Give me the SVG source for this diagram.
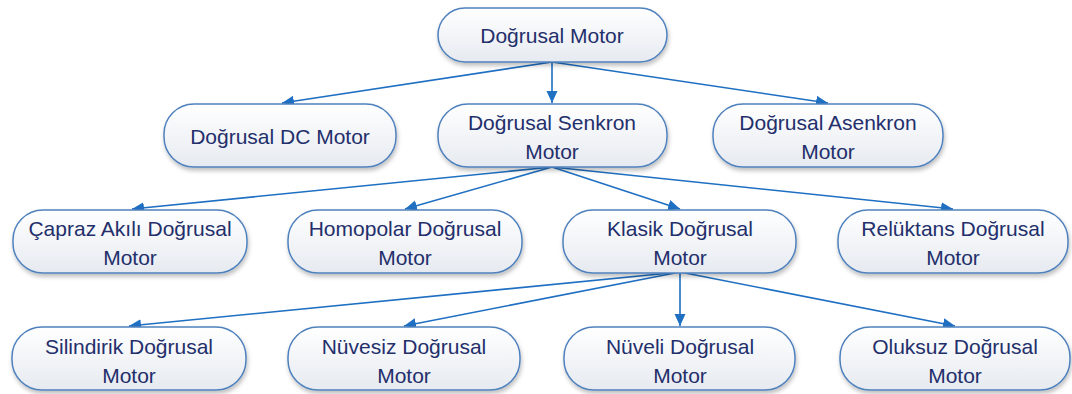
<svg xmlns="http://www.w3.org/2000/svg" width="1072" height="394" viewBox="0 0 1072 394">
<defs>
<linearGradient id="g" x1="0" y1="0" x2="0" y2="1">
<stop offset="0" stop-color="#ffffff"/>
<stop offset="1" stop-color="#e6eaf0"/>
</linearGradient>
<filter id="sh" x="-10%" y="-20%" width="120%" height="150%">
<feDropShadow dx="1" dy="3" stdDeviation="2" flood-color="#000" flood-opacity="0.25"/>
</filter>
<marker id="ah" markerWidth="12" markerHeight="12" refX="12" refY="5.5" orient="auto" markerUnits="userSpaceOnUse" viewBox="0 0 12 11">
<path d="M0,0 L12,5.5 L0,11 z" fill="#1f6fc2"/>
</marker>
<style>
.n rect{fill:url(#g);stroke:#4f81bd;stroke-width:1.5;filter:url(#sh)}
.n text{font-family:"Liberation Sans",Arial,sans-serif;font-size:21px;fill:#232f6b;text-anchor:middle;dominant-baseline:central}
.c line{stroke:#1f6fc2;stroke-width:1.6;marker-end:url(#ah)}
</style>
</defs>
<g class="c" id="connectors">
<line x1="552" y1="62" x2="282" y2="103"/>
<line x1="552" y1="62" x2="552" y2="103"/>
<line x1="552" y1="62" x2="828" y2="103"/>
<line x1="552" y1="167" x2="132" y2="209"/>
<line x1="552" y1="167" x2="405" y2="209"/>
<line x1="552" y1="167" x2="680" y2="209"/>
<line x1="552" y1="167" x2="953" y2="209"/>
<line x1="680" y1="272" x2="129" y2="326"/>
<line x1="680" y1="272" x2="404" y2="326"/>
<line x1="680" y1="272" x2="680" y2="326"/>
<line x1="680" y1="272" x2="955" y2="326"/>
</g>
<g class="n" id="n-dogrusal-motor"><rect x="438" y="8" width="229" height="54" rx="27"/><text x="552" y="35">Doğrusal Motor</text></g>
<g class="n" id="n-dc"><rect x="164" y="104" width="232" height="63" rx="30"/><text x="280" y="136">Doğrusal DC Motor</text></g>
<g class="n" id="n-senkron"><rect x="438" y="104" width="229" height="63" rx="30"/><text x="552" y="122">Doğrusal Senkron</text><text x="552" y="151">Motor</text></g>
<g class="n" id="n-asenkron"><rect x="713" y="104" width="230" height="63" rx="30"/><text x="828" y="122">Doğrusal Asenkron</text><text x="828" y="151">Motor</text></g>
<g class="n" id="n-capraz"><rect x="13" y="210" width="234" height="63" rx="30"/><text x="130" y="228">Çapraz Akılı Doğrusal</text><text x="130" y="257">Motor</text></g>
<g class="n" id="n-homopolar"><rect x="288" y="210" width="234" height="63" rx="30"/><text x="405" y="228">Homopolar Doğrusal</text><text x="405" y="257">Motor</text></g>
<g class="n" id="n-klasik"><rect x="563" y="210" width="233" height="63" rx="30"/><text x="680" y="228">Klasik Doğrusal</text><text x="680" y="257">Motor</text></g>
<g class="n" id="n-reluktans"><rect x="838" y="210" width="230" height="63" rx="30"/><text x="953" y="228">Relüktans Doğrusal</text><text x="953" y="257">Motor</text></g>
<g class="n" id="n-silindirik"><rect x="12" y="327" width="234" height="63" rx="30"/><text x="129" y="346">Silindirik Doğrusal</text><text x="129" y="375">Motor</text></g>
<g class="n" id="n-nuvesiz"><rect x="288" y="327" width="232" height="63" rx="30"/><text x="404" y="346">Nüvesiz Doğrusal</text><text x="404" y="375">Motor</text></g>
<g class="n" id="n-nuveli"><rect x="564" y="327" width="231" height="63" rx="30"/><text x="680" y="346">Nüveli Doğrusal</text><text x="680" y="375">Motor</text></g>
<g class="n" id="n-oluksuz"><rect x="840" y="327" width="230" height="63" rx="30"/><text x="955" y="346">Oluksuz Doğrusal</text><text x="955" y="375">Motor</text></g>
</svg>
